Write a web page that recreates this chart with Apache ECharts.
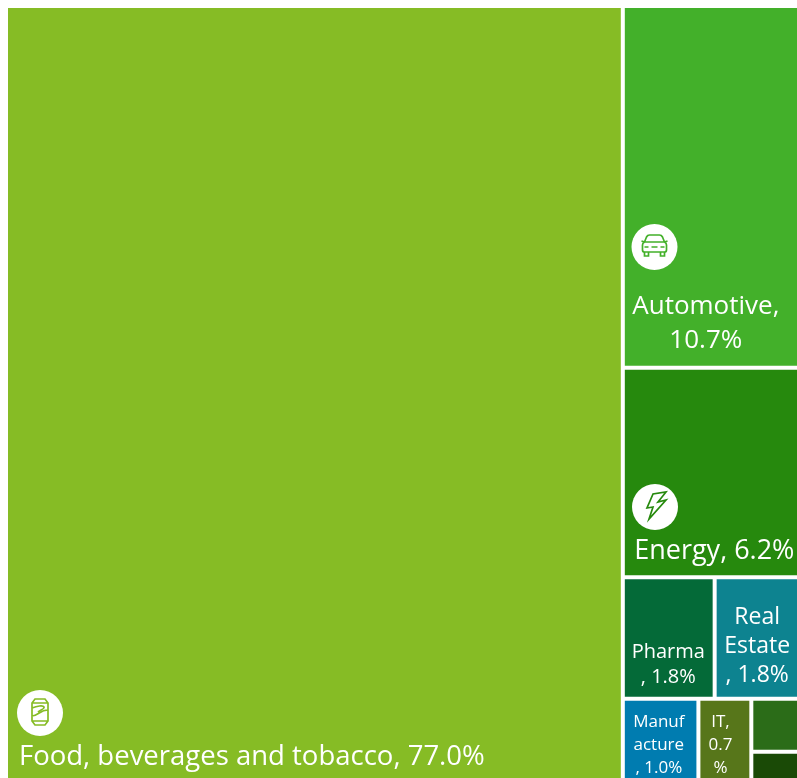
<!DOCTYPE html>
<html>
<head>
<meta charset="utf-8">
<style>html,body{margin:0;padding:0;background:#fff;overflow:hidden}#chart{width:797px;height:778px}</style>
<script src="https://cdn.jsdelivr.net/npm/echarts@6/dist/echarts.min.js"></script>
</head>
<body>
<div id="chart"></div>
<script>
// Sector shares in percent
var sectors = ['Food, beverages and tobacco', 'Automotive', 'Energy', 'Pharma', 'Real Estate', 'Manufacture', 'IT', 'Other A', 'Other B'];
var shares = [77.0, 10.7, 6.2, 1.8, 1.8, 1.0, 0.7, 0.47, 0.26];
var tileColors = ['#86BC25', '#43B02A', '#26890D', '#046A38', '#0D8390', '#007CB0', '#57761A', '#2B6C18', '#1A4A06'];

// Wrapped label text, one entry per sector (empty where the tile is too small)
var labelLines = [
  'Food, beverages and tobacco, 77.0%',
  'Automotive,\n10.7%',
  'Energy, 6.2%',
  'Pharma\n, 1.8%',
  'Real\nEstate\n, 1.8%',
  'Manuf\nacture\n, 1.0%',
  'IT,\n0.7\n%',
  '',
  ''
];
var labelSizes = [27.5, 26, 27, 20, 23, 17, 17, 12, 12];
var labelHeights = [30, 34, 30, 25, 29, 23, 23, 14, 14];
var labelAnchors = [
  { align: 'left', at: [6, 729] },
  { align: 'center', at: [81, 277] },
  { align: 'center', at: [89.5, 162] },
  { align: 'center', at: [43.5, 56] },
  { align: 'center', at: [40.5, 19] },
  { align: 'center', at: [34, 5] },
  { align: 'center', at: [20, 5] },
  { align: 'center', at: [0, 0] },
  { align: 'center', at: [0, 0] }
];

var tiles = sectors.map(function (name, i) {
  return {
    name: name,
    value: shares[i],
    itemStyle: { color: tileColors[i] },
    label: {
      show: labelLines[i] !== '',
      formatter: labelLines[i],
      position: labelAnchors[i].at,
      align: labelAnchors[i].align,
      verticalAlign: 'top',
      fontSize: labelSizes[i],
      lineHeight: labelHeights[i],
      // the negative bottom padding lets three-line labels run past the tile edge
      padding: [5, 5, -30, 5]
    }
  };
});

// Outlined pictograms, centred on the origin of their badge
echarts.graphic.registerShape('canIcon', echarts.graphic.extendPath('M-5 -14H5L8 -10V8L5 12H-5L-8 8V-10ZM-8 -10H8M-8 8H8M-8 3C-2 3 0 -3 8 -3M-8 -5C-3 -7 3 -8 4 -6C5 -4 0 -3 -2 -1'));
echarts.graphic.registerShape('carIcon', echarts.graphic.extendPath('M-12 3V-2Q-12 -4 -10 -5L-8 -10Q-7 -12 -5 -12H5Q7 -12 8 -10L10 -5Q12 -4 12 -2V3Q12 5 10 5H-10Q-12 5 -12 3ZM-10 -5H10M-10 0H-6M6 0H10M-3 0H3M-10 5V9H-6V5M6 5V9H10V5M-10 -5L-13 -6M10 -5L13 -6'));
echarts.graphic.registerShape('boltIcon', echarts.graphic.extendPath('M-2 -13L-8 1L-2 0L-6 12L11 -7L3 -5L11 -15Z'));

// Round white badge holding a pictogram
function badge(cx, cy, color, icon) {
  return {
    type: 'group', x: cx, y: cy, z: 100,
    children: [
      { type: 'circle', shape: { cx: 0, cy: 0, r: 23 }, style: { fill: '#fff' }, z: 100 },
      { type: icon, style: { fill: null, stroke: color, lineWidth: 1.7 }, z: 101 }
    ]
  };
}

var chart = echarts.init(document.getElementById('chart'), null, { renderer: 'canvas' });
chart.setOption({
  animation: false,
  backgroundColor: '#fff',
  series: [{
    type: 'treemap',
    left: 8, top: 8, width: 796.5, height: 771,
    roam: false,
    nodeClick: false,
    sort: false,
    breadcrumb: { show: false },
    squareRatio: 1,
    itemStyle: { gapWidth: 4, borderWidth: 0 },
    label: { color: '#fff', fontFamily: 'Open Sans', overflow: 'none', lineOverflow: 'none' },
    upperLabel: { show: false },
    data: tiles
  }],
  graphic: [
    badge(40, 713, tileColors[0], 'canIcon'),
    badge(654.5, 247, tileColors[1], 'carIcon'),
    badge(655, 507, tileColors[2], 'boltIcon')
  ]
});
</script>
</body>
</html>
